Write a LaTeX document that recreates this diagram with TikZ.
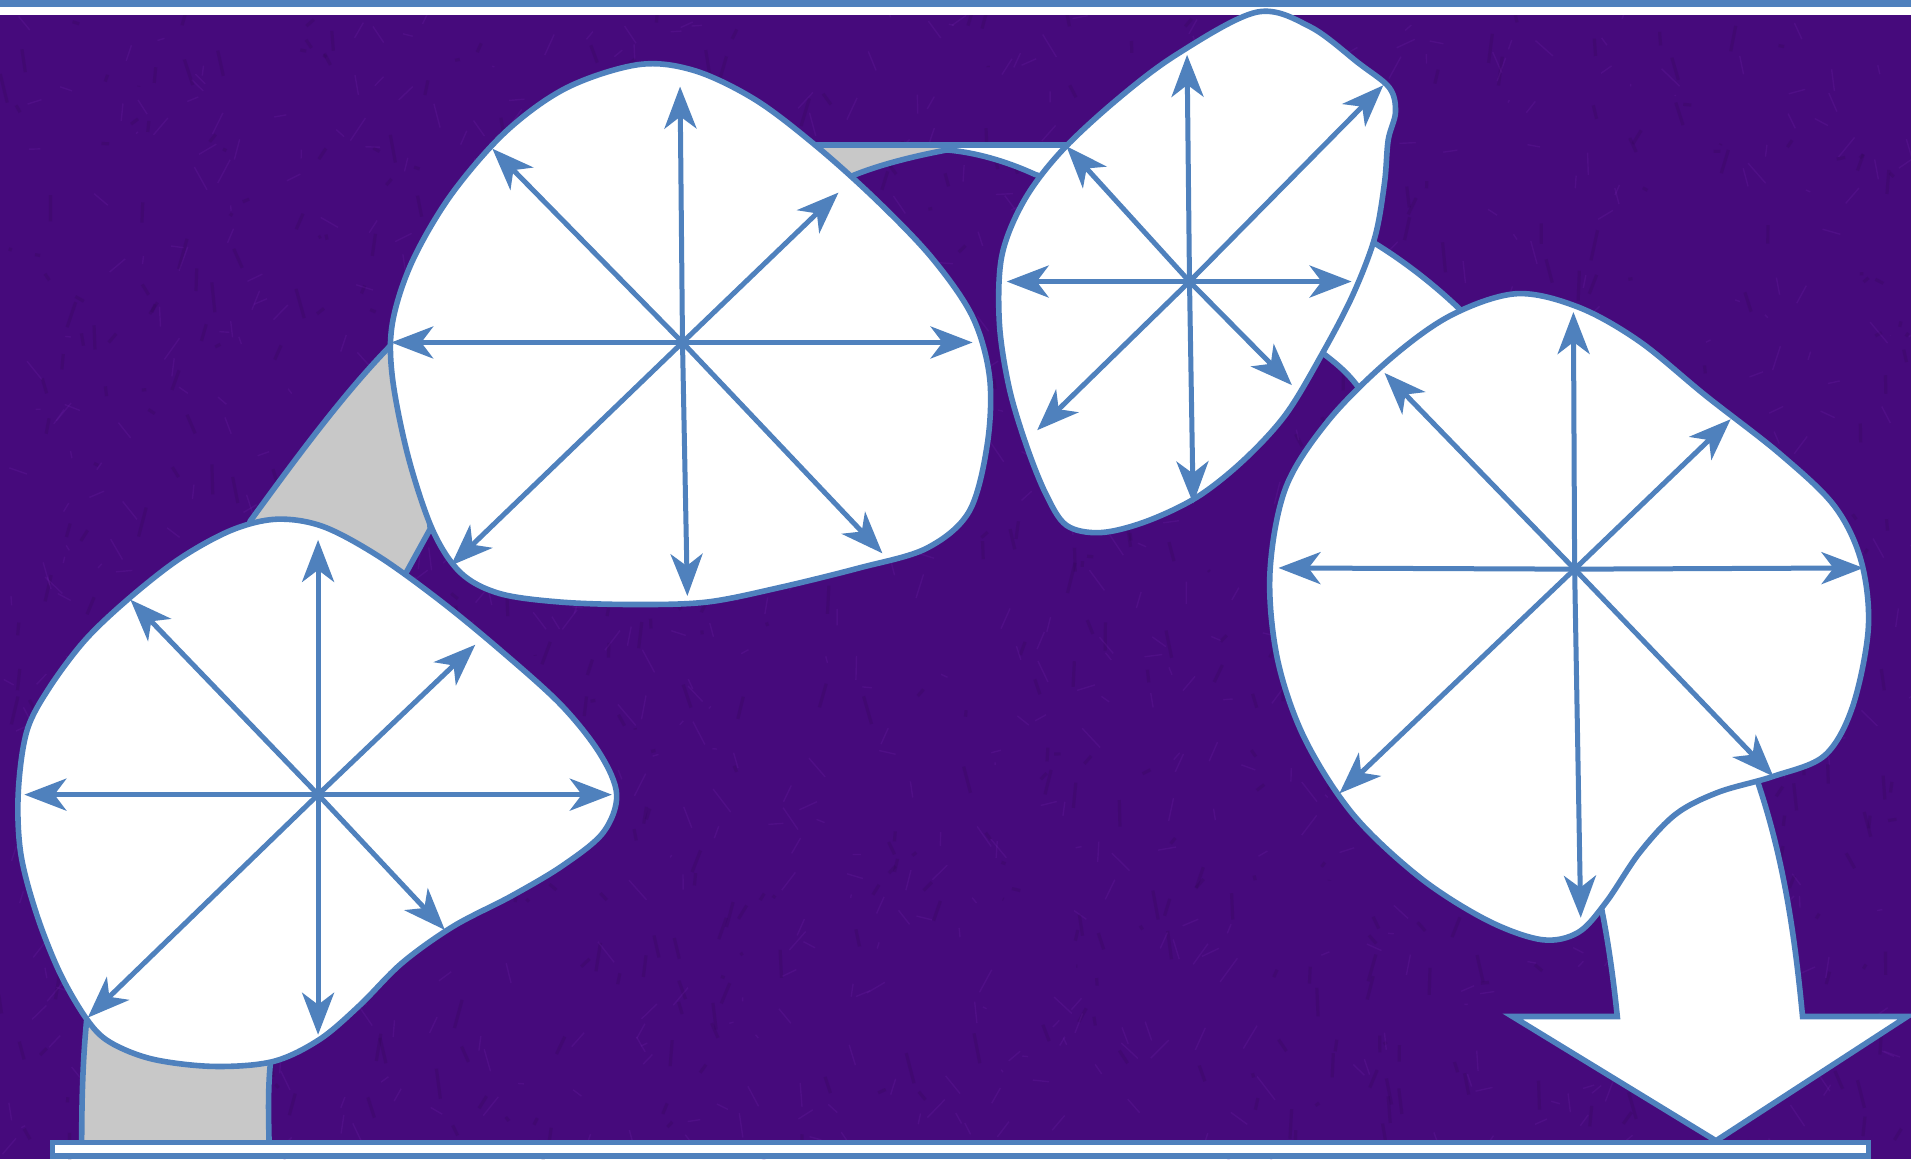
\documentclass[tikz,border=0pt]{standalone}
\usetikzlibrary{arrows.meta}
\definecolor{myblue}{RGB}{79,129,189}
\definecolor{armgrey}{RGB}{200,200,200}
\definecolor{bgpurple}{RGB}{70,10,124}
\definecolor{bglight}{RGB}{120,40,180}
\definecolor{bgdark}{RGB}{35,4,60}
\tikzset{
  blob/.style={draw=myblue, line width=2.8pt, fill=white, line join=round},
  arm/.style={draw=myblue, line width=2.8pt, fill=armgrey, line join=round},
  ray/.style={draw=myblue, line width=2.5pt, line cap=round, -{Stealth[length=21pt,width=16pt,inset=6pt]}},
}
\begin{document}
\begin{tikzpicture}[x=0.6094pt,y=-0.6094pt]
\useasboundingbox (0,0) rectangle (1568,951);
\fill[bgpurple] (0,0) rectangle (1568,951);
% texture
\pgfmathsetseed{11}
\begin{scope}
\clip (0,0) rectangle (1568,951);
\foreach \i in {1,...,700}{
  \pgfmathsetmacro{\xa}{rnd*1568}
  \pgfmathsetmacro{\ya}{rnd*951}
  \pgfmathsetmacro{\dx}{(rnd-0.5)*14}
  \pgfmathsetmacro{\dy}{(rnd-0.5)*50}
  \draw[bgdark, opacity=0.14, line width=1.6pt] (\xa,\ya) -- ++(\dx,\dy);
}
\foreach \i in {1,...,900}{
  \pgfmathsetmacro{\xa}{rnd*1568}
  \pgfmathsetmacro{\ya}{rnd*951}
  \pgfmathsetmacro{\dx}{(rnd-0.5)*30}
  \pgfmathsetmacro{\dy}{(rnd-0.5)*40}
  \draw[bglight, opacity=0.18, line width=0.7pt] (\xa,\ya) -- ++(\dx,\dy);
}
\end{scope}
% top strip
\fill[myblue] (0,0) rectangle (1568,5.7);
\fill[white] (0,5.7) rectangle (1568,12.3);

% arms
\draw[arm] (80,800) -- (71,838) .. controls (68,870) and (67,900) .. (67,945) -- (221,945) .. controls (220,910) and (220,890) .. (222,871) -- (225,800) -- cycle;
\draw[arm] (215,440) -- (205,428) .. controls (240,380) and (280,325) .. (320,284) -- (340,290) -- (353,434) -- (331,474) -- (310,480) -- cycle;
\draw[arm] (640,119) -- (779,119) -- (777,123) .. controls (745,129) and (715,137) .. (693,147) -- (675,150) -- cycle;
\draw[blob] (775,119) -- (885,119) -- (870,150) -- (849,143) .. controls (825,132) and (800,125) .. (777,123) -- cycle;
\draw[blob] (1095,220) -- (1127,199) .. controls (1150,213) and (1175,232) .. (1197,253) -- (1210,275) -- (1130,330) -- (1114,317) .. controls (1105,305) and (1095,297) .. (1083,288) -- (1070,280) -- cycle;
% big arrow
\draw[blob, line join=miter] (1300,700) -- (1314,745) .. controls (1320,775) and (1324,805) .. (1327,834) -- (1241,834) -- (1408,936) -- (1565,834) -- (1479,834) .. controls (1472,760) and (1462,700) .. (1442,641) -- (1420,620) -- cycle;

% blobs
\draw[blob] plot[smooth cycle, tension=0.55] coordinates {
 (71,836) (49,798) (30,750) (17,700) (15,650) (22,600) (40,565) (70,525) (107,490) (148,458) (190,435) (227,426) (265,432) (310,456) (360,492) (410,533) (460,578) (492,618) (506,652) (495,683) (462,710) (420,735) (372,760) (330,790) (295,825) (262,853) (224,871) (175,875) (125,869) (90,855)};
\draw[blob] plot[smooth cycle, tension=0.55] coordinates {
 (524,53) (570,58) (620,82) (670,120) (720,165) (765,212) (798,260) (812,310) (810,365) (795,420) (760,450) (705,466) (640,482) (580,494) (520,496) (460,494) (410,487) (378,470) (355,435) (335,375) (322,310) (322,265) (338,215) (370,160) (415,108) (465,72)};
\draw[blob] plot[smooth cycle, tension=0.55] coordinates {
 (1031,10) (1075,22) (1115,52) (1140,72) (1145,92) (1139,115) (1136,150) (1128,195) (1110,242) (1085,290) (1055,340) (1020,378) (982,408) (940,428) (903,437) (875,431) (858,405) (842,365) (828,318) (820,265) (822,210) (840,165) (870,125) (915,83) (965,45)};
\draw[blob] plot[smooth cycle, tension=0.55] coordinates {
 (1244,241) (1295,252) (1345,280) (1400,325) (1460,372) (1505,415) (1527,460) (1533,515) (1520,580) (1497,620) (1455,637) (1410,650) (1375,668) (1345,700) (1318,740) (1295,765) (1265,771) (1220,755) (1165,720) (1110,668) (1070,605) (1048,540) (1042,470) (1055,400) (1090,345) (1140,295) (1190,259)};

% ray coordinates
\coordinate (b1c) at (261,652);
\coordinate (b1L) at (20,652); \coordinate (b1R) at (502,652);
\coordinate (b1T) at (261,443); \coordinate (b1B) at (261,849);
\coordinate (b1UL) at (107,492); \coordinate (b1LR) at (365,763);
\coordinate (b1UR) at (390,529); \coordinate (b1LL) at (72,835);

\coordinate (b2c) at (560,281);
\coordinate (b2L) at (321,281); \coordinate (b2R) at (798,281);
\coordinate (b2T) at (558,71); \coordinate (b2B) at (564,489);
\coordinate (b2UL) at (404,122); \coordinate (b2LR) at (724,454);
\coordinate (b2UR) at (688,158); \coordinate (b2LL) at (370,464);

\coordinate (b3c) at (976,231);
\coordinate (b3L) at (826,231); \coordinate (b3R) at (1109,231);
\coordinate (b3T) at (974,45); \coordinate (b3B) at (979,413);
\coordinate (b3UL) at (875,120); \coordinate (b3LR) at (1060,316);
\coordinate (b3UR) at (1135,70); \coordinate (b3LL) at (851,353);

\coordinate (b4c) at (1292,467);
\coordinate (b4L) at (1049,466); \coordinate (b4R) at (1529,466);
\coordinate (b4T) at (1291,256); \coordinate (b4B) at (1297,753);
\coordinate (b4UL) at (1136,306); \coordinate (b4LR) at (1455,637);
\coordinate (b4UR) at (1420,344); \coordinate (b4LL) at (1099,651);

\foreach \b in {b1,b2,b3,b4}{
  \foreach \d in {L,R,T,B,UL,LR,UR,LL}{
    \draw[ray] (\b c) -- (\b\d);
  }
}

% bottom bar
\draw[myblue, line width=2.6pt, fill=white] (43,937.5) rectangle (1533,948.5);
\end{tikzpicture}
\end{document}
